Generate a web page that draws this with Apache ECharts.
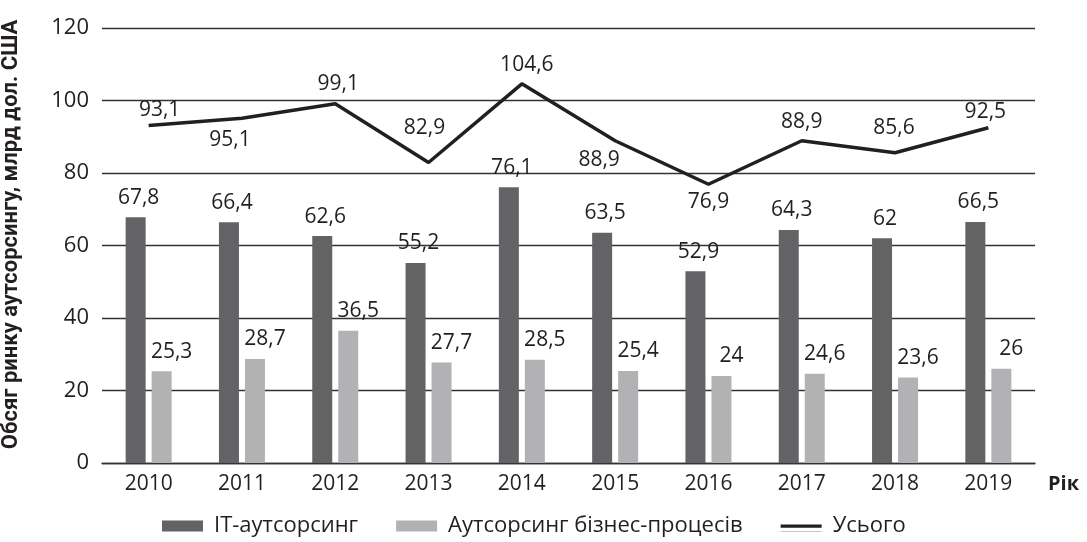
<!DOCTYPE html>
<html>
<head>
<meta charset="utf-8">
<script src="https://cdn.jsdelivr.net/npm/echarts@6/dist/echarts.min.js"></script>
<style>html,body{margin:0;padding:0;background:#fff}#c{width:1087px;height:542px}</style>
</head>
<body>
<div id="c"></div>
<script>
const years = ['2010','2011','2012','2013','2014','2015','2016','2017','2018','2019'];
const itOutsourcing = [67.8, 66.4, 62.6, 55.2, 76.1, 63.5, 52.9, 64.3, 62, 66.5];
const bpoOutsourcing = [25.3, 28.7, 36.5, 27.7, 28.5, 25.4, 24, 24.6, 23.6, 26];
const totalMarket = [93.1, 95.1, 99.1, 82.9, 104.6, 88.9, 76.9, 88.9, 85.6, 92.5];
const yTicks = [0, 20, 40, 60, 80, 100, 120];
const seriesNames = ['IT-аутсорсинг', 'Аутсорсинг бізнес-процесів', 'Усього'];

// label placement (style only)
const totalLabelOffsets = [[11,-15],[-12,22],[3,-20],[-4,-34],[5,-19],[-16,19],[0,18],[0,-19],[-1,-25],[-3,-16]];

const FONT = 'Open Sans';
const TXT = '#231f20';
const fmt = v => String(v).replace('.', ',');

const chart = echarts.init(document.getElementById('c'), null, {renderer: 'canvas'});
chart.setOption({
  animation: false,
  backgroundColor: '#fff',
  textStyle: {fontFamily: FONT, color: TXT},
  grid: {left: 102, right: 52, top: 28, bottom: 79, outerBoundsMode: 'none', containLabel: false},
  legend: {
    left: 157, top: 510,
    itemWidth: 41, itemHeight: 11, itemGap: 38,
    textStyle: {fontFamily: FONT, fontSize: 22, color: TXT, padding: [0, 0, 0, 6]},
    data: [
      {name: seriesNames[0], icon: 'rect'},
      {name: seriesNames[1], icon: 'rect'},
      {name: seriesNames[2], icon: 'path://M0,0h44v0.01h-44z M0,3.8h44v3.6h-44z M0,10.99h44v0.01h-44z'}
    ]
  },
  xAxis: {
    type: 'category',
    data: years,
    name: 'Рік',
    nameLocation: 'end',
    nameGap: 13,
    nameTextStyle: {fontFamily: FONT, fontWeight: 'bold', fontSize: 20, color: TXT, verticalAlign: 'top', padding: [11, 0, 0, 0]},
    axisLine: {lineStyle: {color: '#333', width: 1.3}},
    axisTick: {show: false},
    axisLabel: {fontFamily: FONT, fontSize: 21, color: TXT, margin: 11}
  },
  yAxis: {
    type: 'value',
    min: yTicks[0], max: yTicks[yTicks.length - 1], interval: yTicks[1] - yTicks[0],
    name: 'Обсяг ринку аутсорсингу, млрд дол. США',
    nameLocation: 'middle',
    nameGap: 80,
    nameTextStyle: {fontFamily: 'Roboto', fontWeight: 'bold', fontSize: 22, color: TXT, padding: [0, 0, 0, 22]},
    axisLine: {show: false},
    axisTick: {show: false},
    axisLabel: {fontFamily: FONT, fontSize: 22, color: TXT, margin: 13},
    splitLine: {lineStyle: {color: '#333', width: 1.3}}
  },
  series: [
    {
      name: seriesNames[0], type: 'bar', data: itOutsourcing,
      barWidth: 20, barGap: '30%',
      itemStyle: {color: '#636365'},
      label: {show: true, position: 'top', distance: 9, offset: [3, 0], fontFamily: FONT, fontSize: 21, color: TXT, formatter: p => fmt(p.value)}
    },
    {
      name: seriesNames[1], type: 'bar', data: bpoOutsourcing,
      barWidth: 20,
      itemStyle: {color: '#b2b2b5'},
      label: {show: true, position: 'top', distance: 9, offset: [10, 0], fontFamily: FONT, fontSize: 21, color: TXT, formatter: p => fmt(p.value)}
    },
    {
      name: seriesNames[2], type: 'line',
      data: totalMarket.map((v, i) => ({value: v, label: {offset: totalLabelOffsets[i]}})),
      symbol: 'circle', symbolSize: 0.01, showSymbol: true,
      lineStyle: {color: '#231f20', width: 3.5},
      itemStyle: {color: '#231f20'},
      label: {show: true, position: 'inside', fontFamily: FONT, fontSize: 21, color: TXT, formatter: p => fmt(p.value)},
      z: 5
    }
  ]
});
</script>
</body>
</html>
